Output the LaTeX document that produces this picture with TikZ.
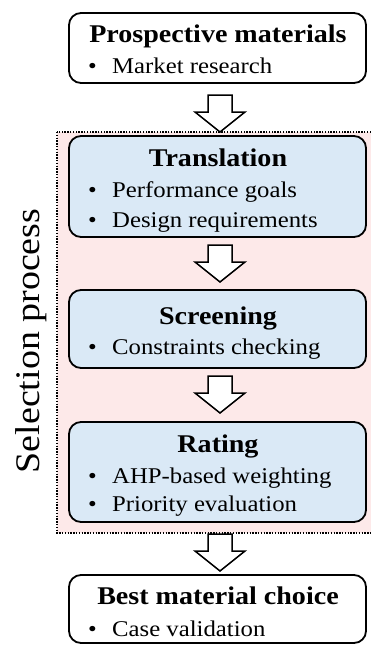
\documentclass[tikz,border=0pt]{standalone}
\usepackage{fontspec}
\setmainfont[FakeStretch=1.1]{Liberation Serif}
\definecolor{boxblue}{RGB}{218,233,246}
\definecolor{bgpink}{RGB}{253,233,233}
\tikzset{
  stagebox/.style={draw=black, line width=1.8pt, rounded corners=12pt, inner sep=0pt},
  bluebox/.style={stagebox, fill=boxblue},
  whitebox/.style={stagebox, fill=white},
  titletext/.style={anchor=base, inner sep=0pt, font=\fontsize{25.5}{28}\selectfont\bfseries},
  itemtext/.style={anchor=base west, inner sep=0pt, font=\fontsize{22.5}{26}\selectfont},
  frame/.style={draw=black, fill=bgpink, line width=1.4pt, dash pattern=on 1.4pt off 1.4pt},
  pics/downarrow/.style={code={
    \draw[line width=1.5pt, fill=white, line join=miter]
      (-12,0) -- (12,0) -- (12,17) -- (25,17) -- (0,37) -- (-25,17) -- (-12,17) -- cycle;
  }}
}
\newcommand{\bul}[1]{\makebox[24pt][l]{\textbullet}#1}
\begin{document}
\begin{tikzpicture}[x=1pt,y=-1pt]
\useasboundingbox (0,0) rectangle (371,646);
\fill[white] (0,0) rectangle (371,646);
% selection process frame
\draw[frame] (57,132) rectangle (380,533);
\node[rotate=90, anchor=base, inner sep=0pt, font=\fontsize{34.5}{38}\selectfont] (sel) at (39,341) {Selection process};
% boxes
\node[whitebox, minimum width=297pt, minimum height=70pt] (pm) at (217.5,48) {};
\node[bluebox, minimum width=297pt, minimum height=101pt] (tr) at (217.5,186.5) {};
\node[bluebox, minimum width=297pt, minimum height=78pt] (sc) at (217.5,329) {};
\node[bluebox, minimum width=297pt, minimum height=100pt] (ra) at (217.5,472) {};
\node[whitebox, minimum width=297pt, minimum height=68pt] (bm) at (217.5,609) {};
% texts
\node[titletext] (pmt) at (218,42) {Prospective materials};
\node[itemtext] (pm1) at (88,73) {\bul{Market research}};
\node[titletext] (trt) at (218,166) {Translation};
\node[itemtext] (tr1) at (88,197) {\bul{Performance goals}};
\node[itemtext] (tr2) at (88,227) {\bul{Design requirements}};
\node[titletext] (sct) at (218,324) {Screening};
\node[itemtext] (sc1) at (88,354) {\bul{Constraints checking}};
\node[titletext] (rat) at (218,452) {Rating};
\node[itemtext] (ra1) at (88,483) {\bul{AHP-based weighting}};
\node[itemtext] (ra2) at (88,511) {\bul{Priority evaluation}};
\node[titletext] (bmt) at (218,604) {Best material choice};
\node[itemtext] (bm1) at (88,636) {\bul{Case validation}};
% arrows
\pic at (220,95) {downarrow};
\pic at (220,245) {downarrow};
\pic at (220,376) {downarrow};
\pic at (220,534) {downarrow};
\end{tikzpicture}
\end{document}
